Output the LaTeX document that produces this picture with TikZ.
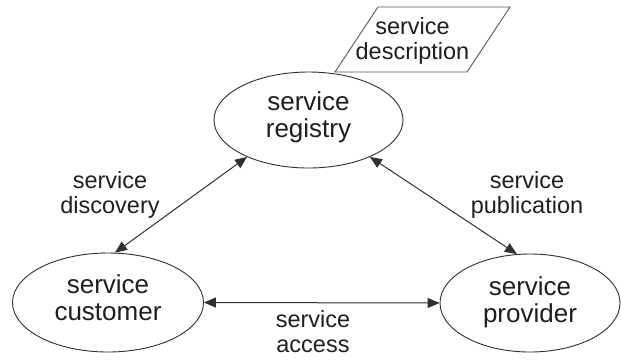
\documentclass[tikz,border=0pt]{standalone}
\usepackage{fontspec}
\setmainfont{Liberation Sans}
\usetikzlibrary{arrows.meta,shapes.geometric}
\definecolor{linegray}{HTML}{303030}
\definecolor{textdark}{HTML}{1E1E24}
\newcommand{\mydep}[1]{\rule[-#1]{0pt}{#1}}
\begin{document}
\begin{tikzpicture}[x=1pt,y=-1pt,
  ellnode/.style={ellipse, draw=linegray, line width=0.9pt, inner sep=0pt,
    align=center, text=textdark, font=\fontsize{26}{27.5}\selectfont},
  lbl/.style={align=center, inner sep=0pt, text=textdark,
    font=\fontsize{23.5}{25}\selectfont},
  conn/.style={draw=linegray, line width=1pt,
    {Triangle[length=12pt,width=10pt]}-{Triangle[length=12pt,width=10pt]}}
]
\useasboundingbox[fill=white] (0,0) rectangle (621,360);

% parallelogram (service description)
\draw[draw=linegray!80, line width=0.9pt] (378,7) -- (510,7) -- (467,72) -- (335,72) -- cycle;
\node[lbl] (desc) at (412.5,41) {service\\description};

\node[ellnode, minimum width=189pt, minimum height=96pt] (reg) at (308.5,120)
  {service\\registry\mydep{11pt}};
\node[ellnode, minimum width=191pt, minimum height=99pt] (cust) at (108,302.5)
  {service\\customer\mydep{10pt}};
\node[ellnode, minimum width=180pt, minimum height=98pt] (prov) at (530,303)
  {service\\provider\mydep{7pt}};

\draw[conn] (reg.211) -- (cust.82);
\draw[conn] (reg.329) -- (prov.105);
\draw[conn] (cust.east) -- (prov.west);

\node[lbl] (ldisc) at (110,194.6) {service\\discovery};
\node[lbl] (lpub) at (527,194.6) {service\\publication};
\node[lbl] (lacc) at (313,331.1) {service\\access};
\end{tikzpicture}
\end{document}
